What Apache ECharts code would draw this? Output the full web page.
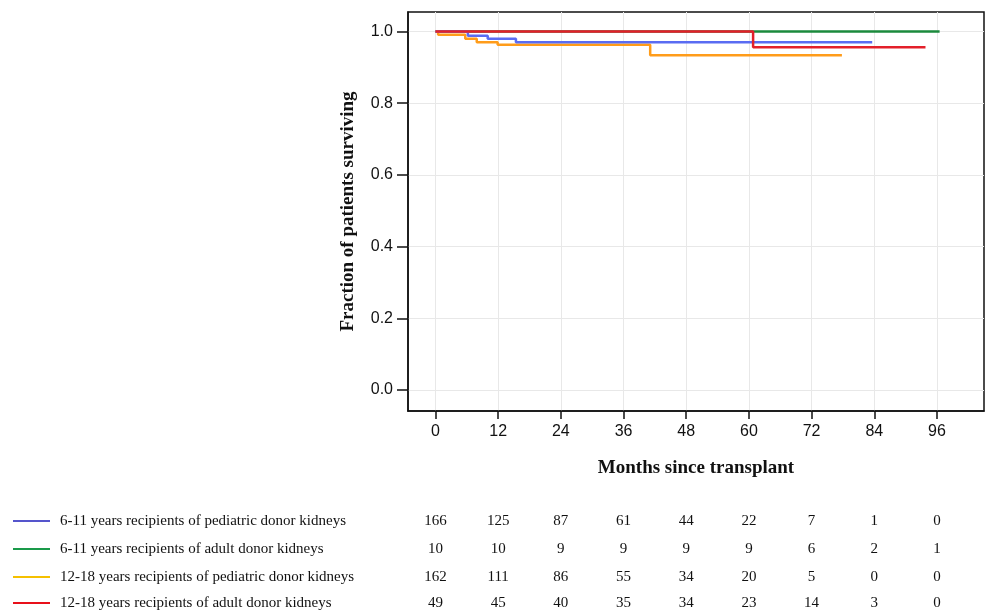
<!DOCTYPE html>
<html>
<head>
<meta charset="utf-8">
<script src="https://cdn.jsdelivr.net/npm/echarts@6/dist/echarts.min.js"></script>
<style>
html,body{margin:0;padding:0;background:#fff;}
#chart{width:987px;height:611px;}
</style>
</head>
<body>
<div id="chart"></div>
<script>
// ---- data ----
var xTicks = [0, 12, 24, 36, 48, 60, 72, 84, 96];
var yTicks = [0, 0.2, 0.4, 0.6, 0.8, 1.0];
var seriesNames = [
  '6-11 years recipients of pediatric donor kidneys',
  '6-11 years recipients of adult donor kidneys',
  '12-18 years recipients of pediatric donor kidneys',
  '12-18 years recipients of adult donor kidneys'
];
var blueCurve   = [[0,1.0],[6.2,0.988],[10.0,0.980],[15.4,0.970],[83.6,0.970]];
var greenCurve  = [[0,1.0],[96.5,1.0]];
var orangeCurve = [[0,1.0],[0.5,0.991],[5.7,0.980],[7.9,0.970],[11.9,0.963],[41.1,0.934],[77.8,0.934]];
var redCurve    = [[0,1.0],[60.8,0.956],[93.8,0.956]];
var atRiskBlue   = [166,125,87,61,44,22,7,1,0];
var atRiskGreen  = [10,10,9,9,9,9,6,2,1];
var atRiskOrange = [162,111,86,55,34,20,5,0,0];
var atRiskRed    = [49,45,40,35,34,23,14,3,0];

// ---- styles ----
var lineColors   = ['#5a6cf2', '#1b8a3c', '#ff9c1a', '#e3202a'];
var legendColors = ['#5555cc', '#1a9a4a', '#f5c000', '#e8101a'];
var curves = [blueCurve, greenCurve, orangeCurve, redCurve];
var atRisk = [atRiskBlue, atRiskGreen, atRiskOrange, atRiskRed];
var drawOrder = [1, 2, 0, 3];

var chart = echarts.init(document.getElementById('chart'), null, {renderer: 'canvas'});

var series = drawOrder.map(function (i) {
  return {
    name: seriesNames[i],
    type: 'line',
    step: 'end',
    data: curves[i],
    showSymbol: false,
    symbol: 'none',
    animation: false,
    lineStyle: {color: lineColors[i], width: 2.5},
    itemStyle: {color: lineColors[i]},
    z: 3 + drawOrder.indexOf(i)
  };
});

var option = {
  backgroundColor: '#fff',
  animation: false,
  grid: {
    left: 408, top: 12, width: 576, height: 399,
    show: true, borderColor: '#111', borderWidth: 1.5, backgroundColor: 'transparent',
    containLabel: false
  },
  xAxis: {
    type: 'value',
    min: -5.26, max: 105.0,
    name: 'Months since transplant',
    nameLocation: 'middle',
    nameGap: 48,
    nameTextStyle: {fontFamily: 'Liberation Serif', fontWeight: 'bold', fontSize: 19, color: '#111'},
    axisLine: {show: true, onZero: false, lineStyle: {color: '#111', width: 1.5}},
    axisTick: {show: true, length: 8, customValues: xTicks, lineStyle: {color: '#111', width: 1.5}},
    axisLabel: {customValues: xTicks, fontFamily: 'Liberation Sans', fontSize: 16, color: '#111', margin: 13},
    splitLine: {show: true, lineStyle: {color: '#e8e8e8', width: 1}}
  },
  yAxis: {
    type: 'value',
    min: -0.0587, max: 1.0545,
    name: 'Fraction of patients surviving',
    nameLocation: 'middle',
    nameGap: 50,
    nameTextStyle: {fontFamily: 'Liberation Serif', fontWeight: 'bold', fontSize: 19, color: '#111'},
    axisLine: {show: true, onZero: false, lineStyle: {color: '#111', width: 1.5}},
    axisTick: {show: true, length: 11, customValues: yTicks, lineStyle: {color: '#111', width: 1.5}},
    axisLabel: {customValues: yTicks, formatter: function (v) { return v.toFixed(1); },
      fontFamily: 'Liberation Sans', fontSize: 16, color: '#111', margin: 15},
    splitLine: {show: true, lineStyle: {color: '#e8e8e8', width: 1}}
  },
  series: series
};
chart.setOption(option);

// ---- at-risk table below the chart ----
var rowY = [521, 549, 577, 603];
var elements = [];
for (var r = 0; r < 4; r++) {
  elements.push({
    type: 'line',
    shape: {x1: 13, y1: rowY[r], x2: 50, y2: rowY[r]},
    style: {stroke: legendColors[r], lineWidth: 2}
  });
  elements.push({
    type: 'text',
    x: 60, y: rowY[r],
    style: {text: seriesNames[r], font: '15px "Liberation Serif"', fill: '#111',
      textAlign: 'left', textVerticalAlign: 'middle'}
  });
  for (var c = 0; c < xTicks.length; c++) {
    var px = chart.convertToPixel({xAxisIndex: 0}, xTicks[c]);
    elements.push({
      type: 'text',
      x: px, y: rowY[r],
      style: {text: String(atRisk[r][c]), font: '15px "Liberation Serif"', fill: '#111',
        textAlign: 'center', textVerticalAlign: 'middle'}
    });
  }
}
chart.setOption({graphic: {elements: elements}});
</script>
</body>
</html>
